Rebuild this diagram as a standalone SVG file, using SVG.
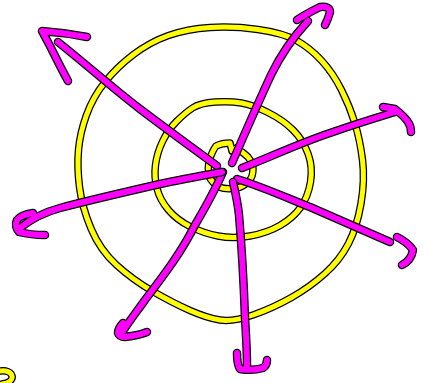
<svg xmlns="http://www.w3.org/2000/svg" xmlns:xlink="http://www.w3.org/1999/xlink" width="430" height="383" viewBox="0 0 430 383">
<style>
.o{fill:none;stroke:#000;stroke-linecap:round;stroke-linejoin:round}
.y{fill:none;stroke:#ffff00;stroke-width:5;stroke-linecap:round;stroke-linejoin:round}
.oy{stroke-width:7.5}
.m{fill:none;stroke:#ff00ff;stroke-width:6;stroke-linecap:round;stroke-linejoin:round}
.om{stroke-width:8.5}
</style>
<defs>
<path id="c1" d="M258,29.5 Q283,33 296.5,40.5 Q310,48 321.5,60.5 Q333,73 341.5,90 Q350,107 355,123.5 Q360,140 362.5,160 Q365,180 361,203.5 Q357,227 348.5,243.5 Q340,260 325,273.5 Q310,287 291.5,297.5 Q273,308 253,315 Q233,322 220,320 Q207,318 190,310.5 Q173,303 153,291.5 Q133,280 116.5,265 Q100,250 91,228.5 Q82,207 79.5,187 Q77,167 78.5,150 Q80,133 86.5,115 Q93,97 105,82 Q117,67 133.5,54.5 Q150,42 168.5,35.5 Q187,29 210,27.5 Q233,26 258,29.5 Z"/>
<path id="c2" d="M215,102 Q230,101 241.5,103 Q253,105 268,112.5 Q283,120 293,130 Q303,140 308,153.5 Q313,167 310.5,182 Q308,197 300.5,207.5 Q293,218 280,225.5 Q267,233 250,236 Q233,239 218,236 Q203,233 190,226.5 Q177,220 168.5,210 Q160,200 157,188.5 Q154,177 155.5,165 Q157,153 162.5,141.5 Q168,130 176.5,121.5 Q185,113 192.5,108 Q200,103 215,102 Z"/>
<path id="c3" d="M216,146 C220,144 225,143 230,143 L232,151 L236,148 C241,151 245,154 248,157 C251,161 253,165 253,169 C253,174 252,178 249,181 C246,184 242,187 237,188 C231,189 224,189 219,187 C214,184 211,181 209,176 C208,171 208,166 209,161 C211,155 213,150 216,146 Z"/>
<path id="c4" d="M0,371 C6,370 11,372 12,376 C13,380 9,383 2,384"/>
<path id="a1" d="M217,166 C190,146 165,128 140,109 C115,90 88,66 58,42 M68,81 C62,70 56,58 51,48 C47,40 44,35 42,31 C56,32 72,34 87,37"/>
<path id="a2" d="M232,163 C245,133 258,103 271,75 C283,50 295,35 308,21 M297,20 C304,15 312,11 320,7 C326,6 330,8 330,12 C329,16 327,21 325,25"/>
<path id="a3" d="M242,168 C270,157 300,143 330,133 C350,126 372,119 395,112 M383,107 L395,109 C400,113 405,117 408,122 C411,126 411,129 411,132"/>
<path id="a4" d="M237,179 C260,186 285,197 310,207 C335,218 362,230 390,242 M397,237 C403,240 409,244 413,250 C412,256 408,262 402,265"/>
<path id="a5" d="M233,182 C236,195 238,205 239,215 C242,250 244,290 245,318 C246,335 247,350 247,365 M237,353 C237,360 238,366 240,369 C246,370 256,370 263,368 C266,366 267,363 267,360"/>
<path id="a6" d="M223,172 C215,190 205,208 195,225 C180,255 160,280 145,300 C138,310 130,320 123,331 M123,323 C120,326 118,329 118,333 C119,336 121,337 125,337 C133,336 140,335 147,332"/>
<path id="a7" d="M222,172 C200,176 178,180 160,184 C125,192 90,200 60,208 C45,212 30,220 20,228 M33,213 C26,214 20,216 17,220 C15,224 16,229 19,232 C27,234 36,235 45,235"/>
</defs>
<g id="rings">
<use xlink:href="#c1" class="o oy"/><use xlink:href="#c1" class="y"/>
<use xlink:href="#c2" class="o oy"/><use xlink:href="#c2" class="y"/>
<use xlink:href="#c3" class="o oy"/><use xlink:href="#c3" class="y"/>
<use xlink:href="#c4" class="o oy"/><use xlink:href="#c4" class="y"/>
</g>
<g id="arrows">
<use xlink:href="#a1" class="o om"/><use xlink:href="#a1" class="m"/>
<use xlink:href="#a2" class="o om"/><use xlink:href="#a2" class="m"/>
<use xlink:href="#a3" class="o om"/><use xlink:href="#a3" class="m"/>
<use xlink:href="#a4" class="o om"/><use xlink:href="#a4" class="m"/>
<use xlink:href="#a5" class="o om"/><use xlink:href="#a5" class="m"/>
<use xlink:href="#a6" class="o om"/><use xlink:href="#a6" class="m"/>
<use xlink:href="#a7" class="o om"/><use xlink:href="#a7" class="m"/>
</g>
</svg>
